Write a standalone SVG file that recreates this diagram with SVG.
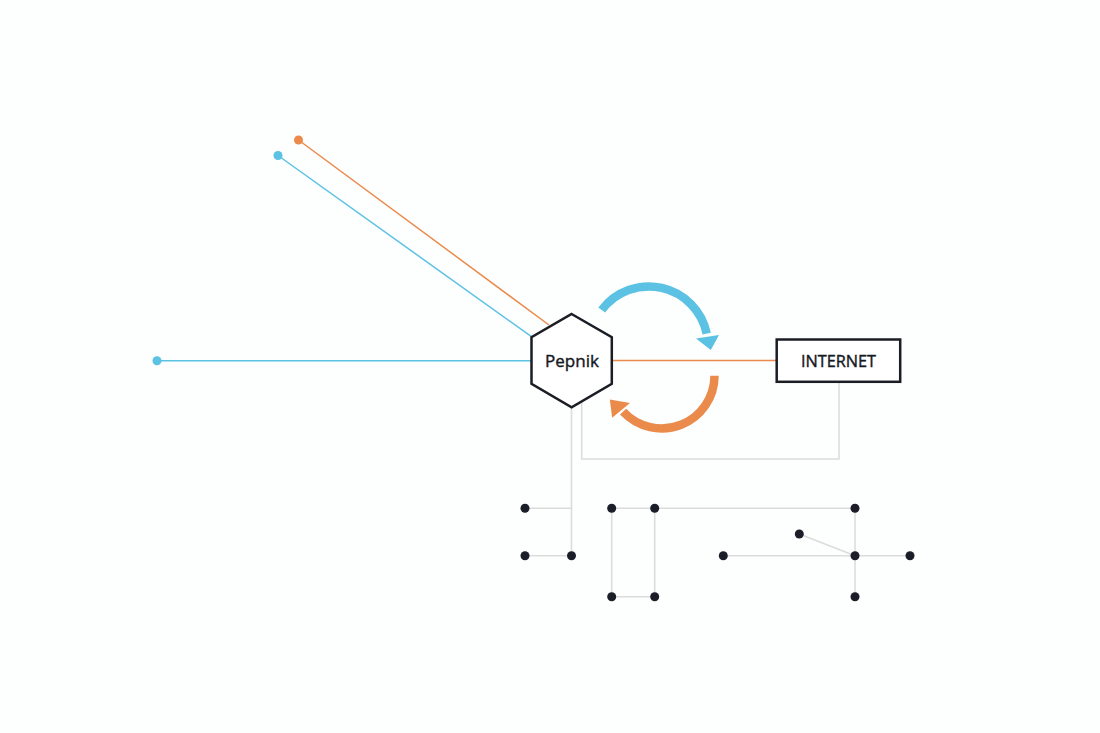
<svg xmlns="http://www.w3.org/2000/svg" width="1100" height="733" viewBox="0 0 1100 733">
<style>
.blue{stroke:#5bc2e3;stroke-width:1.5;fill:none}
.orange{stroke:#ea8a4b;stroke-width:1.5;fill:none}
.gray{stroke:#dcdcdc;stroke-width:1.6;fill:none}
.dot{fill:#1b1d29}
.lbl{font-family:"Open Sans","Noto Sans",sans-serif;font-weight:400;fill:#16181f;stroke:#16181f;stroke-width:0.4;text-anchor:middle}
</style>
<rect width="1100" height="733" fill="#fdfefe"/>
<g id="connectors">
<line class="orange" x1="298.5" y1="140" x2="549" y2="325"/>
<line class="blue" x1="278" y1="155.5" x2="531.5" y2="336.7"/>
<line class="blue" x1="157" y1="360.7" x2="531.5" y2="360.7"/>
<line class="orange" x1="612" y1="360.5" x2="777" y2="360.5"/>
<polyline class="gray" points="581.7,401.6 581.7,459 839,459 839,382"/>
<line class="gray" x1="571.5" y1="407.5" x2="571.5" y2="555.7"/>
<line class="gray" x1="525" y1="508.3" x2="571.5" y2="508.3"/>
<line class="gray" x1="525" y1="555.7" x2="571.5" y2="555.7"/>
<polyline class="gray" points="611.7,508.3 654.7,508.3 654.7,596.7 611.7,596.7 611.7,508.3"/>
<line class="gray" x1="654.7" y1="508.3" x2="855" y2="508.3"/>
<line class="gray" x1="855" y1="508.3" x2="855" y2="596.7"/>
<line class="gray" x1="723.3" y1="555.7" x2="910" y2="555.7"/>
<line class="gray" x1="799.3" y1="534" x2="855" y2="555.7"/>
<circle cx="298.5" cy="140" r="4.5" fill="#ea8a4b"/>
<circle cx="278" cy="155.5" r="4.5" fill="#5bc2e3"/>
<circle cx="157" cy="360.7" r="4.5" fill="#5bc2e3"/>
<path d="M601.7,310 A59,59 0 0 1 706.7,333.7" stroke="#5bc2e3" stroke-width="8.5" fill="none"/>
<polygon points="696,338.6 719,335 710.8,350" fill="#5bc2e3"/>
<path d="M714.5,375.7 A52.8,52.8 0 0 1 623.1,411.7" stroke="#ea8a4b" stroke-width="8.5" fill="none"/>
<polygon points="630,403 612.2,417.8 609.8,399.5" fill="#ea8a4b"/>
</g>
<g id="pepnik">
<polygon points="571.6,314 611.8,337.2 611.8,383.8 571.6,407.3 531.5,383.8 531.5,337.2" fill="#ffffff" stroke="#1b1d24" stroke-width="2.5" stroke-linejoin="miter"/>
<text class="lbl" x="572" y="366.7" font-size="17">Pepnik</text>
</g>
<g id="internet">
<rect x="776.7" y="339.5" width="123.5" height="42.3" fill="#ffffff" stroke="#1b1d24" stroke-width="2.5"/>
<text class="lbl" x="838.5" y="366.7" font-size="16.3">INTERNET</text>
</g>
<g id="nodes">
<circle class="dot" cx="525" cy="508.3" r="4.5"/>
<circle class="dot" cx="525" cy="555.7" r="4.5"/>
<circle class="dot" cx="571.5" cy="555.7" r="4.5"/>
<circle class="dot" cx="611.7" cy="508.3" r="4.5"/>
<circle class="dot" cx="654.7" cy="508.3" r="4.5"/>
<circle class="dot" cx="611.7" cy="596.7" r="4.5"/>
<circle class="dot" cx="654.7" cy="596.7" r="4.5"/>
<circle class="dot" cx="855" cy="508.3" r="4.5"/>
<circle class="dot" cx="799.3" cy="534" r="4.5"/>
<circle class="dot" cx="723.3" cy="555.7" r="4.5"/>
<circle class="dot" cx="855" cy="555.7" r="4.5"/>
<circle class="dot" cx="910" cy="555.7" r="4.5"/>
<circle class="dot" cx="855" cy="596.7" r="4.5"/>
</g>
</svg>
